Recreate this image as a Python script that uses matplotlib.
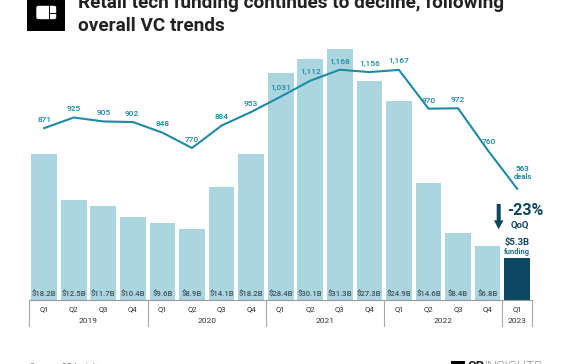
import matplotlib
matplotlib.use("Agg")
import matplotlib.pyplot as plt
from matplotlib.patches import Rectangle, FancyArrow, FancyBboxPatch

plt.rcParams['font.family'] = ['Roboto', 'DejaVu Sans']

W, H = 572, 364
quarters = ["Q1", "Q2", "Q3", "Q4"] * 4 + ["Q1"]
years = ["2019", "2020", "2021", "2022", "2023"]
year_counts = [4, 4, 4, 4, 1]
funding = [18.2, 12.5, 11.7, 10.4, 9.6, 8.9, 14.1, 18.2, 28.4, 30.1, 31.3, 27.3, 24.9, 14.6, 8.4, 6.8, 5.3]
funding_labels = ["$18.2B", "$12.5B", "$11.7B", "$10.4B", "$9.6B", "$8.9B", "$14.1B", "$18.2B", "$28.4B",
                  "$30.1B", "$31.3B", "$27.3B", "$24.9B", "$14.6B", "$8.4B", "$6.8B"]
deals = [871, 925, 905, 902, 848, 770, 884, 953, 1031, 1112, 1168, 1156, 1167, 970, 972, 760, 563]
deal_labels = ["871", "925", "905", "902", "848", "770", "884", "953", "1,031", "1,112", "1,168", "1,156",
               "1,167", "970", "972", "760"]
# label offset of each deal count from its point, in px
deal_dx = [0, 0, 0, -1, 0, 0, 0, 0, 0, 0, 0, 0, 0, 0, 0, 1.5]
deal_dy = [8.5, 8.5, 8.5, 8.5, 8.5, 8, 8.5, 8.5, 8.5, 8.5, 8, 8.5, 8.5, 8, 8.5, 8]

X0, DX, BASE, PXB = 44.2, 29.56, 300.3, 8.02
Y770, PXD = 148.0, 0.1967

C_BAR, C_DARK, C_LINE, C_TXT = "#abd6df", "#0d4661", "#1c8ba3", "#41525b"

fig = plt.figure(figsize=(W / 100, H / 100), dpi=100)
ax = fig.add_axes([0, 0, 1, 1])
ax.set_xlim(-X0 / DX, (W - X0) / DX)
ax.set_ylim(-(H - BASE) / PXB, BASE / PXB)
ax.axis("off")
tw = ax.twinx()
tw.set_ylim(770 - (H - Y770) / PXD, 770 + Y770 / PXD)
tw.axis("off")


def t(x, y, s, **k):
    fig.text(x / W, 1 - y / H, s, **k)


xs = list(range(len(funding)))
colors = [C_BAR] * 16 + [C_DARK]
ax.bar(xs, funding, width=25.7 / DX, color=colors, linewidth=0)
tw.plot(xs, deals, color=C_LINE, lw=1.5, solid_joinstyle="miter", zorder=3)

for i, s in enumerate(funding_labels):
    ax.text(i, 0.35, s, ha="center", va="bottom", fontsize=5.6, color=C_TXT, fontweight="medium")
for i, s in enumerate(deal_labels):
    tw.annotate(s, (i, deals[i]), xytext=(deal_dx[i] * .72, deal_dy[i] * .72), textcoords="offset points",
                ha="center", va="center", fontsize=6.0, color=C_LINE, fontweight="medium", zorder=4)

# category axis brackets
line = dict(color="#9a9a9a", lw=0.8, solid_capstyle="butt")
ax.plot([-0.5, 16.5], [0, 0], **line)
start = 0
edges = [-0.5]
for name, n in zip(years, year_counts):
    edges.append(start + n - 0.5)
    mid = start + (n - 1) / 2
    t(X0 + DX * mid, 321.3, name, ha="center", va="center", fontsize=6.0, color="#333333")
    start += n
for e in edges:
    xp = X0 + DX * e
    fig.add_artist(plt.Line2D([xp / W] * 2, [1 - 300.3 / H, 1 - 325.7 / H], color="#a8a8a8", lw=0.8))
for i, q in enumerate(quarters):
    t(X0 + DX * i, 308.7, q, ha="center", va="center", fontsize=5.6, color="#333333")

# callouts
t(522.5, 168.5, "563", ha="center", va="center", fontsize=5.8, color=C_LINE, fontweight="bold")
t(522.5, 177, "deals", ha="center", va="center", fontsize=5.4, color=C_LINE, fontweight="bold")
t(525.5, 210.7, "-23%", ha="center", va="center", fontsize=11.5, color=C_DARK, fontweight="bold")
t(520, 225, "QoQ", ha="center", va="center", fontsize=6.8, color=C_DARK, fontweight="bold")
t(516.7, 242.7, "$5.3B", ha="center", va="center", fontsize=6.8, color=C_DARK, fontweight="bold")
t(516.7, 251.7, "funding", ha="center", va="center", fontsize=5.4, color="#1f6a86", fontweight="bold")
fig.add_artist(FancyArrow(498.7 / W, 1 - 204 / H, 0, -25.3 / H, width=4 / W, head_width=9.5 / W,
                          head_length=9 / H, length_includes_head=True, color=C_DARK,
                          transform=fig.transFigure, linewidth=0))

# header
t(78, 8.5, "Retail tech funding continues to decline, following", ha="left", va="baseline", fontsize=13.7,
  color="#222222", fontweight="bold")
t(78, 31, "overall VC trends", ha="left", va="baseline", fontsize=13.7, color="#222222", fontweight="bold")
fig.add_artist(Rectangle((27 / W, 1 - 30.6 / H), 38 / W, 31 / H, color="black", transform=fig.transFigure, lw=0))
fig.add_artist(FancyBboxPatch((37 / W, 1 - 18.5 / H), 18.5 / W, 12 / H, boxstyle="round,pad=0,rounding_size=0.003",
                              color="white", transform=fig.transFigure, lw=1))
fig.add_artist(plt.Line2D([49.3 / W] * 2, [1 - 5.5 / H, 1 - 19.5 / H], color="black", lw=0.7))
fig.add_artist(plt.Line2D([49.3 / W, 56.5 / W], [1 - 12.7 / H] * 2, color="black", lw=0.7))

# footer
t(30, 367.5, "Source: CB Insights", ha="left", va="center", fontsize=6.2, color="#777777")
fig.add_artist(Rectangle((451 / W, 1 - 370 / H), 14 / W, 9 / H, color="black", transform=fig.transFigure, lw=0))
t(467, 366, "CB", ha="left", va="center", fontsize=9.5, color="#222222", fontweight="bold")
t(485, 366, "INSIGHTS", ha="left", va="center", fontsize=9.5, color="#222222", fontweight="light")

fig.savefig("out.png", dpi=100)
